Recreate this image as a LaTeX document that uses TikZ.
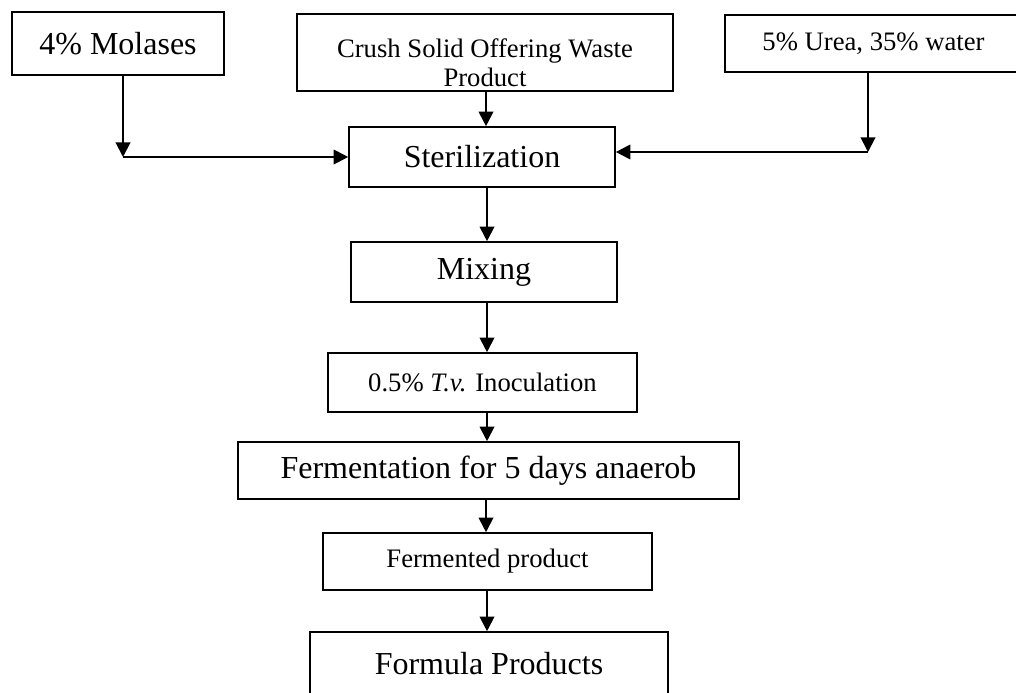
\documentclass[tikz,border=0pt]{standalone}
\usepackage{fontspec}
\setmainfont{Liberation Serif}
\usetikzlibrary{arrows.meta}
\def\largetext{\fontsize{24}{26}\selectfont}
\def\smalltext{\fontsize{20}{22}\selectfont}

\begin{document}
\begin{tikzpicture}[x=0.75pt,y=-0.75pt,
    box/.style={draw,line width=1.2pt,inner sep=0pt,align=center},
    flow/.style={line width=1.5pt,-{Triangle[length=11pt,width=11pt]}}]
\useasboundingbox (0,0) rectangle (1016,692);
\node[box,minimum width=212*0.75pt,minimum height=63*0.75pt,font=\largetext] (molases) at (118,43.5) {4\% Molases};
\node[box,minimum width=376*0.75pt,minimum height=77*0.75pt,font=\smalltext] (crush) at (485,52.5) {\rule{0pt}{29pt}Crush Solid Offering Waste\\Product};
\node[box,minimum width=297*0.75pt,minimum height=57*0.75pt,font=\smalltext] (urea) at (873.5,43.5) {5\% Urea, 35\% water};
\node[box,minimum width=266*0.75pt,minimum height=60*0.75pt,font=\largetext] (steril) at (482,157) {Sterilization};
\node[box,minimum width=266*0.75pt,minimum height=60*0.75pt,font=\largetext] (mixing) at (484,272) {Mixing};
\node[box,minimum width=309*0.75pt,minimum height=59*0.75pt,font=\smalltext] (inoc) at (482.5,382.5) {0.5\% \textit{T.v.} Inoculation};
\node[box,minimum width=501*0.75pt,minimum height=57*0.75pt,font=\largetext] (ferment) at (488.5,470.5) {Fermentation for 5 days anaerob};
\node[box,minimum width=329*0.75pt,minimum height=57*0.75pt,font=\smalltext] (fprod) at (487.5,561.5) {Fermented product};
\node[box,minimum width=358*0.75pt,minimum height=64*0.75pt,font=\largetext] (formula) at (489,664) {Formula Products};
\coordinate (left) at (123,157);
\coordinate (right) at (868,152);
\draw[flow] (molases.south -| left) -- (left);
\draw[flow] (left) -- (steril.west |- left);
\draw[flow] (urea.south -| right) -- (right);
\draw[flow] (right) -- (steril.east |- right);
\draw[flow] (crush.south -| 486,0) -- (steril.north -| 486,0);
\draw[flow] (steril.south -| 487,0) -- (mixing.north -| 487,0);
\draw[flow] (mixing.south -| 487,0) -- (inoc.north -| 487,0);
\draw[flow] (inoc.south -| 487,0) -- (ferment.north -| 487,0);
\draw[flow] (ferment.south -| 486,0) -- (fprod.north -| 486,0);
\draw[flow] (fprod.south -| 487,0) -- (formula.north -| 487,0);
\end{tikzpicture}
\end{document}
